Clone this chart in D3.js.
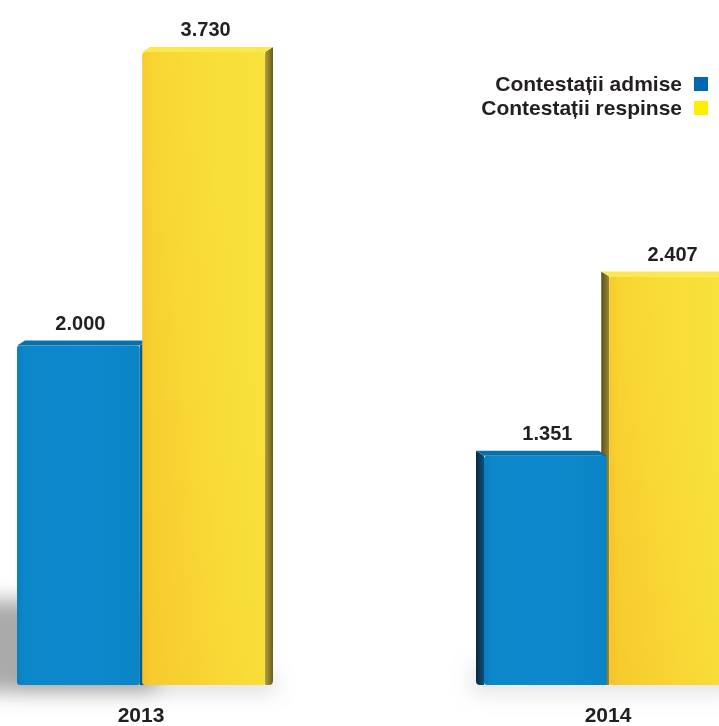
<!DOCTYPE html>
<html>
<head>
<meta charset="utf-8">
<script src="https://cdn.jsdelivr.net/npm/d3@7"></script>
<style>
  html, body { margin: 0; padding: 0; background: #fff; }
  svg { display: block; }
  text { font-family: "Liberation Sans", Arial, Helvetica, sans-serif; font-weight: bold; fill: #231f20; }
</style>
</head>
<body>
<svg id="chart" width="719" height="726"></svg>
<script>
// Contestații by year
const years = ["2013", "2014"];
const seriesNames = ["Contestații admise", "Contestații respinse"];
const admise = [2000, 1351];
const respinse = [3730, 2407];
const valueLabels = [["2.000", "3.730"], ["1.351", "2.407"]];

const svg = d3.select("#chart");
const W = 719, H = 726;

const x0 = d3.scalePoint().domain(years).range([141, 608]);
const x1 = d3.scaleBand().domain(seriesNames).range([-124, 124]).paddingInner(0.02);
const y = d3.scaleLinear().domain([0, 3730]).range([685, 52]);

const defs = svg.append("defs");
const blur = defs.append("filter").attr("id", "soft").attr("x", "-50%").attr("y", "-50%").attr("width", "200%").attr("height", "200%");
blur.append("feGaussianBlur").attr("stdDeviation", 10);

function grad(id, stops, dir) {
  const [x1g, y1g, x2g, y2g] = dir || [0, 0, 1, 0];
  const g = defs.append("linearGradient").attr("id", id)
    .attr("x1", x1g).attr("y1", y1g).attr("x2", x2g).attr("y2", y2g);
  stops.forEach(([o, c, a]) => g.append("stop").attr("offset", o).attr("stop-color", c).attr("stop-opacity", a == null ? 1 : a));
}
grad("blueFront", [[0, "#0a7fc0"], [0.06, "#0b87ca"], [0.6, "#0c89cc"], [1, "#0a84c6"]]);
grad("yellowFront", [[0, "#f5cd2e"], [0.08, "#f8d833"], [0.6, "#f9df38"], [1, "#f8e23b"]]);
// warmer tone toward the lower left of the yellow fronts
grad("warmth", [[0, "#f6a623", 0.3], [0.45, "#f6a623", 0.08], [0.7, "#f6a623", 0]], [0, 1, 1, 0]);
grad("blueSideL", [[0, "#062a40"], [1, "#0b4f78"]]);
grad("yellowSideL", [[0, "#5c5020"], [1, "#9a8a2c"]]);
grad("yellowSideR", [[0, "#b3a136"], [1, "#6a5c22"]]);

const style = {
  "Contestații admise": { front: "url(#blueFront)", top: "#0a70aa", sideL: "url(#blueSideL)", sideR: "#0a5a88", legend: "#0067b1", warm: false },
  "Contestații respinse": { front: "url(#yellowFront)", top: "#fbe74e", sideL: "url(#yellowSideL)", sideR: "url(#yellowSideR)", legend: "#ffed00", warm: true }
};

// soft floor shadows behind each pair
const shadows = svg.append("g").attr("filter", "url(#soft)");
shadows.append("rect")
  .attr("x", x0("2013") - 165).attr("y", 600)
  .attr("width", 180).attr("height", 92)
  .attr("fill", "#555").attr("opacity", 0.5);
shadows.append("rect")
  .attr("x", x0("2013") - 124).attr("y", 674)
  .attr("width", 258).attr("height", 18)
  .attr("fill", "#888").attr("opacity", 0.3);
shadows.append("rect")
  .attr("x", x0("2014") - 136).attr("y", 664)
  .attr("width", 266).attr("height", 30)
  .attr("fill", "#999").attr("opacity", 0.25);

const rows = years.map((yr, i) => ({ year: yr, values: [admise[i], respinse[i]], labels: valueLabels[i] }));
const depth = 8, rise = 5, base = y(0);

rows.forEach(row => {
  const gx = x0(row.year);
  const sideDir = gx < W / 2 ? 1 : -1; // side face toward the centre of the page
  const bars = seriesNames.map((s, j) => ({ s, v: row.values[j], label: row.labels[j], j }));
  // draw order so the nearer bar covers the neighbouring side face
  const order = sideDir > 0 ? bars : bars.slice().reverse();
  const g = svg.append("g");
  order.forEach(b => {
    const st = style[b.s];
    const xl = gx + x1(b.s), xr = xl + x1.bandwidth(), yt = y(b.v);
    // side face
    const sx = sideDir > 0 ? xr : xl;
    g.append("path")
      .attr("d", `M${sx},${yt} L${sx + depth * sideDir},${yt - rise} L${sx + depth * sideDir},${base - 4} Q${sx + depth * sideDir},${base} ${sx + (depth - 4) * sideDir},${base} L${sx},${base} Z`)
      .attr("fill", sideDir > 0 ? st.sideR : st.sideL);
    // top face
    g.append("path")
      .attr("d", `M${xl},${yt} L${xl + depth * sideDir},${yt - rise} L${xr + depth * sideDir},${yt - rise} L${xr},${yt} Z`)
      .attr("fill", st.top);
    // front face
    g.append("rect")
      .attr("x", xl).attr("y", yt)
      .attr("width", xr - xl).attr("height", base - yt)
      .attr("rx", 3).attr("ry", 3)
      .attr("fill", st.front);
    if (st.warm) {
      g.append("rect")
        .attr("x", xl).attr("y", yt)
        .attr("width", xr - xl).attr("height", base - yt)
        .attr("rx", 3).attr("ry", 3)
        .attr("fill", "url(#warmth)");
    }
    // value label
    svg.append("text")
      .attr("x", (xl + xr) / 2 + 2)
      .attr("y", yt - 16)
      .attr("text-anchor", "middle")
      .attr("font-size", 20)
      .text(b.label);
  });
  // year label
  svg.append("text")
    .attr("x", gx)
    .attr("y", 722)
    .attr("text-anchor", "middle")
    .attr("font-size", 21)
    .text(row.year);
});

// legend
const legend = svg.append("g");
seriesNames.forEach((s, i) => {
  legend.append("text")
    .attr("x", 682).attr("y", 91 + i * 24)
    .attr("text-anchor", "end")
    .attr("font-size", 21)
    .text(s);
  legend.append("rect")
    .attr("x", 694).attr("y", 77 + i * 24)
    .attr("width", 14).attr("height", 14)
    .attr("fill", style[s].legend);
});
</script>
</body>
</html>
